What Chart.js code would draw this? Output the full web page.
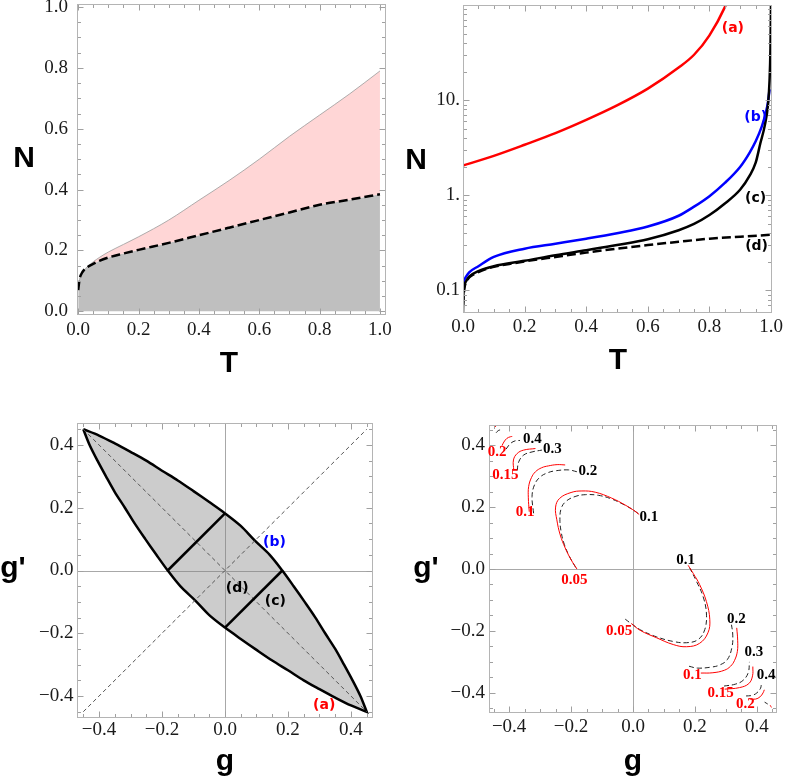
<!DOCTYPE html>
<html>
<head>
<meta charset="utf-8">
<script src="https://cdn.jsdelivr.net/npm/chart.js@4.4.1/dist/chart.umd.min.js"></script>
<style>
  body { margin: 0; background: #fff; }
  canvas { position: absolute; }
</style>
</head>
<body>
<canvas id="c1" width="393" height="390" style="left:0;top:0"></canvas>
<canvas id="c2" width="394" height="390" style="left:393px;top:0"></canvas>
<canvas id="c3" width="393" height="393" style="left:0;top:390px"></canvas>
<canvas id="c4" width="394" height="393" style="left:393px;top:390px"></canvas>
<script>
// ---- tick labels ----
const tTicks = [0, 0.2, 0.4, 0.6, 0.8, 1.0];
const tTickText = ['0.0', '0.2', '0.4', '0.6', '0.8', '1.0'];
const logTicks = [0.1, 1, 10];
const logTickText = ['0.1', '1.', '10.'];
const gTicks = [-0.4, -0.2, 0, 0.2, 0.4];
const gTickText = ['\u22120.4', '\u22120.2', '0.0', '0.2', '0.4'];

// ---- panel 1 : N vs T, filled regions ----
const t1 = [0, 0.003, 0.006, 0.01, 0.02, 0.03, 0.05, 0.07, 0.1, 0.15, 0.2, 0.3, 0.4, 0.5, 0.6, 0.7, 0.8, 0.9, 1.0];
const nLower1 = [0.07, 0.095, 0.112, 0.122, 0.137, 0.145, 0.156, 0.166, 0.177, 0.19, 0.202, 0.225, 0.25, 0.275, 0.3, 0.325, 0.35, 0.367, 0.385];
const nUpper1 = [0.07, 0.095, 0.112, 0.122, 0.137, 0.146, 0.163, 0.177, 0.195, 0.22, 0.245, 0.30, 0.365, 0.43, 0.5, 0.575, 0.645, 0.715, 0.79];

// ---- panel 2 : log N vs T, curves (a)-(d) ----
const tA = [0, 0.1, 0.2, 0.3, 0.4, 0.5, 0.6, 0.7, 0.75, 0.8, 0.85, 0.86];
const nA = [2.05, 2.6, 3.4, 4.5, 6.2, 8.8, 13.2, 22, 30, 48, 95, 115];
const tB = [0, 0.005, 0.01, 0.02, 0.05, 0.1, 0.2, 0.3, 0.4, 0.5, 0.6, 0.7, 0.75, 0.8, 0.85, 0.9, 0.93, 0.95, 0.97, 0.98, 0.99, 0.995];
const nB = [0.11, 0.13, 0.14, 0.155, 0.18, 0.225, 0.275, 0.31, 0.35, 0.40, 0.47, 0.61, 0.76, 0.98, 1.35, 2.0, 2.8, 3.7, 5.3, 6.8, 9.5, 13];
const tC = [0, 0.001, 0.003, 0.006, 0.01, 0.02, 0.05, 0.1, 0.2, 0.3, 0.4, 0.5, 0.6, 0.7, 0.75, 0.8, 0.85, 0.9, 0.93, 0.95, 0.965, 0.98, 0.99, 0.995, 0.998, 1.0];
const nC = [0.058, 0.085, 0.105, 0.117, 0.125, 0.14, 0.16, 0.18, 0.205, 0.235, 0.265, 0.30, 0.345, 0.43, 0.5, 0.62, 0.82, 1.15, 1.6, 2.2, 3.5, 5.5, 9, 16, 35, 120];
const curveNames2 = ['(a)', '(b)', '(c)', '(d)'];
const curveLabelT2 = [0.876, 0.95, 0.95, 0.953];
const curveLabelN2 = [56.9, 6.6, 0.92, 0.288];

// ---- panel 3 : lens in (g, g') ----
const upperG  = [-0.45, -0.40, -0.35, -0.30, -0.25, -0.20, -0.15, -0.10, -0.05, 0.0, 0.05, 0.095, 0.142, 0.182, 0.218, 0.253, 0.287, 0.318, 0.350, 0.378, 0.405, 0.43, 0.45];
const upperGp = [0.45, 0.43, 0.405, 0.378, 0.350, 0.318, 0.287, 0.253, 0.218, 0.182, 0.142, 0.095, 0.05, 0.0, -0.05, -0.10, -0.15, -0.20, -0.25, -0.30, -0.35, -0.40, -0.45];
const lowerG  = [0.45, 0.40, 0.35, 0.30, 0.25, 0.20, 0.15, 0.10, 0.05, 0.0, -0.05, -0.095, -0.142, -0.182, -0.218, -0.253, -0.287, -0.318, -0.350, -0.378, -0.405, -0.43, -0.45];
const lowerGp = [-0.45, -0.43, -0.405, -0.378, -0.350, -0.318, -0.287, -0.253, -0.218, -0.182, -0.142, -0.095, -0.05, 0.0, 0.05, 0.10, 0.15, 0.20, 0.25, 0.30, 0.35, 0.40, 0.45];
const crossG1 = [0, -0.182], crossGp1 = [0.182, 0];
const crossG2 = [0, 0.182], crossGp2 = [-0.182, 0];
const diagG = [-0.45, 0.45];
const lensNames = ['(b)', '(d)', '(c)', '(a)'];
const lensLabelG = [0.157, 0.039, 0.16, 0.315];
const lensLabelGp = [0.091, -0.056, -0.097, -0.429];

// ---- panel 4 : arcs, red solid and black dashed ----
const redArcs = [
  [[-0.181, 0.0], [-0.200, 0.03], [-0.219, 0.068], [-0.235, 0.11], [-0.246, 0.159], [-0.250, 0.20], [-0.237, 0.228], [-0.200, 0.247], [-0.165, 0.252], [-0.122, 0.248], [-0.069, 0.229], [-0.026, 0.207], [0.006, 0.187], [0.02, 0.176]],
  [[-0.005, -0.176], [0.023, -0.198], [0.076, -0.222], [0.13, -0.244], [0.173, -0.251], [0.215, -0.240], [0.242, -0.206], [0.248, -0.163], [0.237, -0.105], [0.215, -0.05], [0.195, -0.015], [0.178, 0.012]],
  [[-0.335, 0.185], [-0.338, 0.23], [-0.337, 0.266], [-0.328, 0.295], [-0.315, 0.314], [-0.295, 0.327], [-0.273, 0.333], [-0.245, 0.337], [-0.219, 0.336]],
  [[-0.385, 0.318], [-0.386, 0.352], [-0.374, 0.373], [-0.353, 0.384], [-0.315, 0.389]],
  [[-0.423, 0.398], [-0.417, 0.41], [-0.407, 0.422], [-0.396, 0.427], [-0.39, 0.428]],
  [[-0.447, 0.458], [-0.442, 0.462]],
  [[0.219, -0.336], [0.258, -0.335], [0.295, -0.327], [0.315, -0.314], [0.328, -0.295], [0.337, -0.266], [0.338, -0.23], [0.335, -0.19]],
  [[0.296, -0.388], [0.344, -0.383], [0.374, -0.37], [0.386, -0.345], [0.387, -0.315]],
  [[0.377, -0.42], [0.396, -0.42], [0.41, -0.413], [0.42, -0.4], [0.424, -0.39]],
  [[0.443, -0.44], [0.447, -0.447]]
];
const blackArcs = [
  [[-0.185, 0.005], [-0.205, 0.04], [-0.222, 0.08], [-0.232, 0.12], [-0.236, 0.16], [-0.232, 0.195], [-0.217, 0.218], [-0.187, 0.234], [-0.154, 0.240], [-0.112, 0.238], [-0.069, 0.226], [-0.026, 0.206], [0.006, 0.187], [0.025, 0.172]],
  [[-0.025, -0.162], [-0.005, -0.177], [0.025, -0.197], [0.076, -0.219], [0.13, -0.234], [0.173, -0.238], [0.21, -0.228], [0.232, -0.195], [0.237, -0.142], [0.226, -0.088], [0.205, -0.04], [0.185, 0.0], [0.178, 0.012]],
  [[-0.321, 0.18], [-0.326, 0.234], [-0.318, 0.272], [-0.300, 0.297], [-0.275, 0.311], [-0.251, 0.317], [-0.208, 0.32], [-0.181, 0.314]],
  [[-0.374, 0.318], [-0.369, 0.346], [-0.353, 0.368], [-0.326, 0.378], [-0.294, 0.384]],
  [[-0.41, 0.387], [-0.396, 0.405], [-0.38, 0.414], [-0.365, 0.415]],
  [[-0.442, 0.44], [-0.435, 0.447], [-0.425, 0.45]],
  [[0.181, -0.314], [0.208, -0.32], [0.251, -0.317], [0.28, -0.31], [0.305, -0.292], [0.32, -0.25], [0.322, -0.21], [0.318, -0.18]],
  [[0.294, -0.378], [0.33, -0.372], [0.355, -0.36], [0.372, -0.335], [0.376, -0.3]],
  [[0.365, -0.41], [0.385, -0.408], [0.4, -0.4], [0.412, -0.385], [0.414, -0.375]],
  [[0.425, -0.43], [0.435, -0.436]]
];
const redText4 = ['0.2', '0.15', '0.1', '0.05', '0.05', '0.1', '0.15', '0.2'];
const redAt4 = [[-0.439, 0.379], [-0.412, 0.303], [-0.348, 0.185], [-0.189, -0.037], [-0.045, -0.201], [0.192, -0.343], [0.283, -0.401], [0.363, -0.437]];
const blackText4 = ['0.4', '0.3', '0.2', '0.1', '0.1', '0.2', '0.3', '0.4'];
const blackAt4 = [[-0.325, 0.418], [-0.26, 0.386], [-0.146, 0.317], [0.051, 0.169], [0.17, 0.028], [0.334, -0.161], [0.39, -0.27], [0.43, -0.343]];

const RED = '#ff0000', BLUE = '#0000ff';
const SERIF = '"Liberation Serif", "Times New Roman", serif';

// minor tick positions for the frame
function steps(a, b, d) { const r = []; for (let v = a; v <= b + 1e-9; v += d) r.push(+v.toFixed(3)); return r; }
const logMinor = [0.06, 0.07, 0.08, 0.09].concat(steps(0.2, 0.9, 0.1), steps(2, 9, 1), steps(20, 90, 10));

const pts = (xs, ys) => xs.map((x, i) => ({ x, y: ys[i] }));
const pairs = arr => arr.map(p => ({ x: p[0], y: p[1] }));

// frame, inward ticks and zero axes
const decor = {
  id: 'decor',
  beforeDatasetsDraw(chart, args, o) {
    if (!o.zero) return;
    const { ctx, chartArea: a, scales: { x, y } } = chart;
    const zx = Math.round(x.getPixelForValue(0)) + 0.5, zy = Math.round(y.getPixelForValue(0)) + 0.5;
    ctx.save();
    ctx.strokeStyle = '#a8a8a8';
    ctx.lineWidth = 1;
    ctx.beginPath();
    ctx.moveTo(zx, a.top); ctx.lineTo(zx, a.bottom);
    ctx.moveTo(a.left, zy); ctx.lineTo(a.right, zy);
    ctx.stroke();
    ctx.restore();
  },
  afterDatasetsDraw(chart, args, o) {
    const { ctx, chartArea: a, scales: { x, y } } = chart;
    const L = Math.round(a.left) + 0.5, R = Math.round(a.right) - 0.5;
    const T = Math.round(a.top) + 0.5, B = Math.round(a.bottom) - 0.5;
    ctx.save();
    ctx.lineWidth = 1;
    ctx.strokeStyle = '#a0a0a0';
    ctx.beginPath();
    const xt = (vals, len) => vals.forEach(v => {
      const p = Math.round(x.getPixelForValue(v)) + 0.5;
      ctx.moveTo(p, B); ctx.lineTo(p, B - len);
      ctx.moveTo(p, T); ctx.lineTo(p, T + len);
    });
    const yt = (vals, len) => vals.forEach(v => {
      const p = Math.round(y.getPixelForValue(v)) + 0.5;
      ctx.moveTo(L, p); ctx.lineTo(L + len, p);
      ctx.moveTo(R, p); ctx.lineTo(R - len, p);
    });
    xt(o.xMajor, 6); xt(o.xMinor, 3.5);
    yt(o.yMajor, 6); yt(o.yMinor, 3.5);
    ctx.stroke();
    ctx.strokeStyle = '#b4b4b4';
    ctx.strokeRect(L, T, R - L, B - T);
    ctx.restore();
  }
};

// curve labels (data coordinates) and axis titles (pixels)
const notes = {
  id: 'notes',
  afterDatasetsDraw(chart, args, o) {
    const { ctx, scales: { x, y } } = chart;
    ctx.save();
    ctx.textAlign = 'center';
    ctx.textBaseline = 'middle';
    ctx.font = o.font;
    (o.labels || []).forEach(l => {
      ctx.fillStyle = l.color;
      ctx.fillText(l.text, x.getPixelForValue(l.x), y.getPixelForValue(l.y));
    });
    ctx.font = 'bold 30px "Liberation Sans"';
    ctx.fillStyle = '#000';
    ctx.textBaseline = 'alphabetic';
    (o.titles || []).forEach(t => ctx.fillText(t.text, t.px, t.py));
    ctx.restore();
  }
};

function axis(type, min, max, vals, text, pad, size) {
  return {
    type, min, max,
    afterBuildTicks: s => { s.ticks = vals.map(v => ({ value: v })); },
    afterFit: s => {
      if (s.isHorizontal()) s.height = size; else s.width = size;
      s.paddingTop = s.paddingBottom = s.paddingLeft = s.paddingRight = 0;
    },
    ticks: {
      callback: (v, i) => text[i], padding: pad, autoSkip: false, maxRotation: 0,
      color: '#1a1a1a', font: { family: SERIF, size: 19 }
    },
    grid: { display: false, drawTicks: false },
    border: { display: false }
  };
}

function line(data, color, width, extra) {
  return Object.assign({
    data, borderColor: color, borderWidth: width, pointRadius: 0, fill: false, tension: 0
  }, extra || {});
}

function make(id, padding, datasets, scales, decorOpts, notesOpts) {
  return new Chart(document.getElementById(id), {
    type: 'line',
    data: { datasets },
    options: {
      responsive: false, animation: false, events: [],
      layout: { padding },
      scales,
      plugins: { legend: { display: false }, tooltip: { enabled: false }, decor: decorOpts, notes: notesOpts }
    },
    plugins: [decor, notes]
  });
}

const smooth = { cubicInterpolationMode: 'monotone' };

// panel 1
make('c1', { top: 4, right: 7, left: 0, bottom: 0 }, [
  line(pts(t1, nLower1), '#000', 2.5, Object.assign({ borderDash: [9, 4] }, smooth)),
  line(pts(t1, nUpper1), '#9a9a9a', 0.8, Object.assign({ fill: { target: 2 }, backgroundColor: '#ffd6d6' }, smooth)),
  line(pts(t1, nLower1), 'rgba(0,0,0,0)', 0, Object.assign({ fill: 'origin', backgroundColor: '#bfbfbf' }, smooth))
], {
  x: axis('linear', -0.004, 1.02, tTicks, tTickText, 4, 75),
  y: axis('linear', -0.012, 1.01, tTicks, tTickText, 9, 77)
}, { xMajor: tTicks, xMinor: steps(0.05, 0.95, 0.05), yMajor: tTicks, yMinor: steps(0.05, 0.95, 0.05) },
{ titles: [{ text: 'N', px: 24, py: 167 }, { text: 'T', px: 229, py: 372 }] });

// panel 2
make('c2', { top: 5, right: 15, left: 0, bottom: 0 }, [
  line(pts(t1, nLower1), '#000', 2.5, Object.assign({ borderDash: [9, 4] }, smooth)),
  line(pts(tC, nC), '#000', 2.5, smooth),
  line(pts(tB, nB), BLUE, 2.5, smooth),
  line(pts(tA, nA), RED, 2.5, smooth)
], {
  x: axis('linear', 0, 1.003, tTicks, tTickText, 3, 77),
  y: axis('logarithmic', 0.058, 100, logTicks, logTickText, 3, 70)
}, { xMajor: tTicks, xMinor: steps(0.05, 0.95, 0.05), yMajor: logTicks, yMinor: logMinor },
{
  font: 'bold 14px "DejaVu Sans"',
  labels: curveNames2.map((s, i) => ({ text: s, x: curveLabelT2[i], y: curveLabelN2[i], color: [RED, BLUE, '#000', '#000'][i] })),
  titles: [{ text: 'N', px: 23, py: 169 }, { text: 'T', px: 225, py: 369 }]
});

// panel 3 (lens last so that it is drawn underneath)
make('c3', { top: 33, right: 20, left: 0, bottom: 0 }, [
  line(pts(crossG1, crossGp1), '#000', 2.5),
  line(pts(crossG2, crossGp2), '#000', 2.5),
  line(pts(diagG, diagG.map(v => -v)), '#555', 1, { borderDash: [4, 3] }),
  line(pts(diagG, diagG), '#555', 1, { borderDash: [4, 3] }),
  line(pts(upperG.concat(lowerG), upperGp.concat(lowerGp)), '#000', 2.5, { fill: 'shape', backgroundColor: 'rgba(128,128,128,0.4)', tension: 0.3 })
], {
  x: axis('linear', -0.47, 0.47, gTicks, gTickText, 1, 65),
  y: axis('linear', -0.47, 0.47, gTicks, gTickText, 3.5, 77)
}, { zero: true, xMajor: gTicks, xMinor: steps(-0.45, 0.45, 0.05), yMajor: gTicks, yMinor: steps(-0.45, 0.45, 0.05) },
{
  font: 'bold 14px "DejaVu Sans"',
  labels: lensNames.map((s, i) => ({ text: s, x: lensLabelG[i], y: lensLabelGp[i], color: i === 0 ? BLUE : (i === 3 ? RED : '#000') })),
  titles: [{ text: "g'", px: 13, py: 187 }, { text: 'g', px: 225, py: 380 }]
});

// panel 4
make('c4', { top: 35, right: 10, left: 0, bottom: 0 },
  redArcs.map(a => line(pairs(a), RED, 1, { tension: 0.4 }))
    .concat(blackArcs.map(a => line(pairs(a), '#222', 1, { borderDash: [5, 3], tension: 0.4 }))),
{
  x: axis('linear', -0.465, 0.465, gTicks, gTickText, 3, 70),
  y: axis('linear', -0.465, 0.465, gTicks, gTickText, 4, 96)
}, { zero: true, xMajor: gTicks, xMinor: steps(-0.45, 0.45, 0.05), yMajor: gTicks, yMinor: steps(-0.45, 0.45, 0.05) },
{
  font: 'bold 15px ' + SERIF,
  labels: redText4.map((s, i) => ({ text: s, x: redAt4[i][0], y: redAt4[i][1], color: RED }))
    .concat(blackText4.map((s, i) => ({ text: s, x: blackAt4[i][0], y: blackAt4[i][1], color: '#000' }))),
  titles: [{ text: "g'", px: 33, py: 187 }, { text: 'g', px: 240, py: 380 }]
});
</script>
</body>
</html>
